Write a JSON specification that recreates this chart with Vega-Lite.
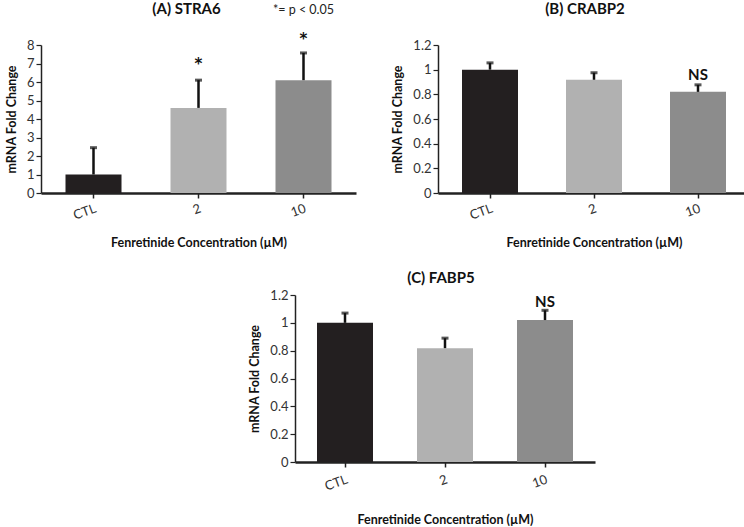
{
  "$schema": "https://vega.github.io/schema/vega-lite/v6.json",
  "padding": {"left": 5, "top": 1, "right": 0, "bottom": 0},
  "background": "white",
  "datasets": {
    "A": [
      {"conc": "CTL", "fold": 1.0, "upper": 2.45, "note": "", "notey": 0},
      {"conc": "2", "fold": 4.6, "upper": 6.1, "note": "*", "notey": 7.0},
      {"conc": "10", "fold": 6.1, "upper": 7.57, "note": "*", "notey": 8.35}
    ],
    "Akey": [{"conc": "10", "y": 9.9, "text": "*= p < 0.05"}],
    "B": [
      {"conc": "CTL", "fold": 1.0, "upper": 1.055, "note": "", "notey": 0},
      {"conc": "2", "fold": 0.918, "upper": 0.975, "note": "", "notey": 0},
      {"conc": "10", "fold": 0.82, "upper": 0.877, "note": "NS", "notey": 0.955}
    ],
    "C": [
      {"conc": "CTL", "fold": 1.0, "upper": 1.07, "note": "", "notey": 0},
      {"conc": "2", "fold": 0.818, "upper": 0.89, "note": "", "notey": 0},
      {"conc": "10", "fold": 1.02, "upper": 1.09, "note": "NS", "notey": 1.15}
    ]
  },
  "vconcat": [
    {
      "hconcat": [
        {
          "width": 315, "height": 148,
          "title": {"text": "(A) STRA6", "offset": -13, "dx": -12},
          "data": {"name": "A"},
          "encoding": {
            "x": {"field": "conc", "type": "nominal", "sort": ["CTL", "2", "10"], "title": "Fenretinide Concentration (µM)",
                  "axis": {"labelAngle": -20, "labelAlign": "right", "labelPadding": 4, "titlePadding": 14}}
          },
          "layer": [
            {"mark": {"type": "bar", "width": 56},
             "encoding": {
               "y": {"field": "fold", "type": "quantitative", "scale": {"domain": [0, 8], "nice": false}, "title": "mRNA Fold Change",
                     "axis": {"values": [0, 1, 2, 3, 4, 5, 6, 7, 8], "tickCount": 20, "format": "~f", "labelOverlap": false}},
               "color": {"field": "conc", "type": "nominal", "scale": {"domain": ["CTL", "2", "10"], "range": ["#231f20", "#b1b1b1", "#8c8c8c"]}, "legend": null}
             }},
            {"mark": {"type": "rule", "color": "#111", "strokeWidth": 2.5},
             "encoding": {"y": {"field": "fold", "type": "quantitative"}, "y2": {"field": "upper"}}},
            {"mark": {"type": "tick", "color": "#111", "size": 7, "thickness": 3},
             "encoding": {"y": {"field": "upper", "type": "quantitative"}}},
            {"mark": {"type": "text", "fontSize": 15, "fontWeight": "bold", "color": "#111", "baseline": "middle", "font": "DejaVu Sans"},
             "encoding": {"y": {"field": "notey", "type": "quantitative"}, "text": {"field": "note"}}},
            {"data": {"name": "Akey"},
             "mark": {"type": "text", "fontSize": 12.5, "color": "#222", "baseline": "middle"},
             "encoding": {"y": {"field": "y", "type": "quantitative"}, "text": {"field": "text"}}}
          ]
        },
        {
          "width": 312, "height": 148,
          "title": {"text": "(B) CRABP2", "offset": 22, "dx": -9},
          "data": {"name": "B"},
          "encoding": {
            "x": {"field": "conc", "type": "nominal", "sort": ["CTL", "2", "10"], "title": "Fenretinide Concentration (µM)",
                  "axis": {"labelAngle": -20, "labelAlign": "right", "labelPadding": 4, "titlePadding": 14}}
          },
          "layer": [
            {"mark": {"type": "bar", "width": 56},
             "encoding": {
               "y": {"field": "fold", "type": "quantitative", "scale": {"domain": [0, 1.2], "nice": false}, "title": "mRNA Fold Change",
                     "axis": {"values": [0, 0.2, 0.4, 0.6, 0.8, 1, 1.2], "tickCount": 20, "format": ".1~f", "labelOverlap": false}},
               "color": {"field": "conc", "type": "nominal", "scale": {"domain": ["CTL", "2", "10"], "range": ["#231f20", "#b1b1b1", "#8c8c8c"]}, "legend": null}
             }},
            {"mark": {"type": "rule", "color": "#111", "strokeWidth": 2.5},
             "encoding": {"y": {"field": "fold", "type": "quantitative"}, "y2": {"field": "upper"}}},
            {"mark": {"type": "tick", "color": "#111", "size": 7, "thickness": 3},
             "encoding": {"y": {"field": "upper", "type": "quantitative"}}},
            {"mark": {"type": "text", "fontSize": 15, "fontWeight": "bold", "color": "#111", "baseline": "middle"},
             "encoding": {"y": {"field": "notey", "type": "quantitative"}, "text": {"field": "note"}}}
          ]
        }
      ],
      "spacing": 82,
      "bounds": "flush"
    },
    {
      "hconcat": [
        {
          "width": 1, "height": 167,
          "data": {"values": [{"blank": ""}]},
          "mark": {"type": "text"},
          "encoding": {"text": {"field": "blank"}}
        },
        {
          "width": 300, "height": 167,
          "title": {"text": "(C) FABP5", "offset": 3, "dx": -4},
          "data": {"name": "C"},
          "encoding": {
            "x": {"field": "conc", "type": "nominal", "sort": ["CTL", "2", "10"], "title": "Fenretinide Concentration (µM)",
                  "axis": {"labelAngle": -20, "labelAlign": "right", "labelPadding": 6, "titlePadding": 20}}
          },
          "layer": [
            {"mark": {"type": "bar", "width": 56},
             "encoding": {
               "y": {"field": "fold", "type": "quantitative", "scale": {"domain": [0, 1.2], "nice": false}, "title": "mRNA Fold Change",
                     "axis": {"values": [0, 0.2, 0.4, 0.6, 0.8, 1, 1.2], "tickCount": 20, "format": ".1~f", "labelOverlap": false}},
               "color": {"field": "conc", "type": "nominal", "scale": {"domain": ["CTL", "2", "10"], "range": ["#231f20", "#b1b1b1", "#8c8c8c"]}, "legend": null}
             }},
            {"mark": {"type": "rule", "color": "#111", "strokeWidth": 2.5},
             "encoding": {"y": {"field": "fold", "type": "quantitative"}, "y2": {"field": "upper"}}},
            {"mark": {"type": "tick", "color": "#111", "size": 7, "thickness": 3},
             "encoding": {"y": {"field": "upper", "type": "quantitative"}}},
            {"mark": {"type": "text", "fontSize": 15, "fontWeight": "bold", "color": "#111", "baseline": "middle"},
             "encoding": {"y": {"field": "notey", "type": "quantitative"}, "text": {"field": "note"}}}
          ]
        }
      ],
      "spacing": 253,
      "bounds": "flush"
    }
  ],
  "spacing": 22,
  "config": {
    "font": "Lato",
    "view": {"stroke": null},
    "title": {"fontSize": 15, "fontWeight": "bold", "color": "#111"},
    "axis": {"grid": false, "labelFontSize": 13, "labelColor": "#333", "labelOverlap": false, "titleFontSize": 12.5, "titleFontWeight": "bold", "titleColor": "#111",
             "domainColor": "#222", "tickColor": "#222", "tickSize": 5},
    "axisX": {"domainWidth": 2.5, "tickWidth": 1.5},
    "axisY": {"domainWidth": 1.5, "tickWidth": 1.2, "titlePadding": 8},
    "bar": {"strokeWidth": 0}
  }
}
